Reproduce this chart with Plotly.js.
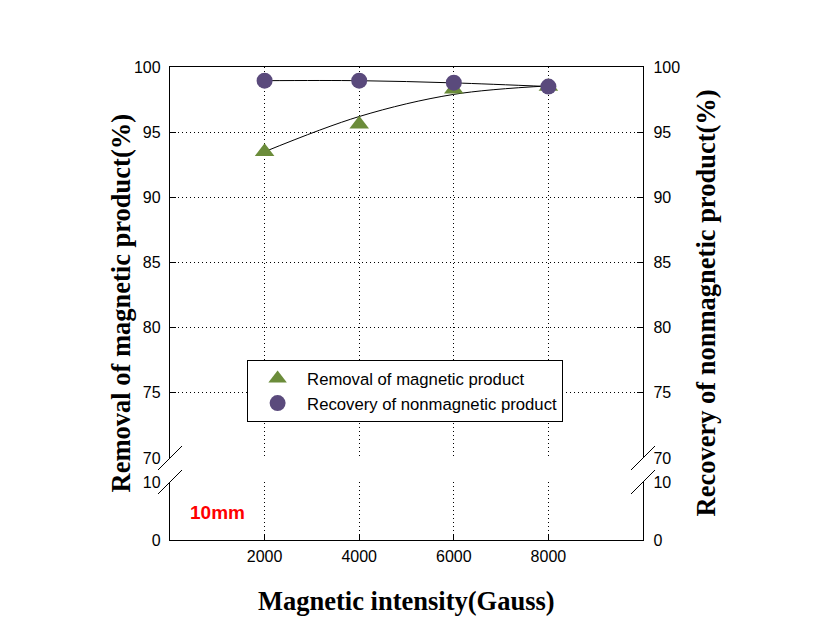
<!DOCTYPE html>
<html>
<head>
<meta charset="utf-8">
<script src="https://cdn.plot.ly/plotly-3.0.1.min.js"></script>
<style>html,body{margin:0;padding:0;background:#fff;}</style>
</head>
<body>
<div id="chart" style="width:828px;height:636px;"></div>
<script>
// Data
var intensity = [2000, 4000, 6000, 8000];
var removalMagnetic = [93.5, 95.6, 98.3, 98.5];
var recoveryNonmagnetic = [98.95, 98.95, 98.8, 98.5];
// fitted trend curves drawn as thin black lines
var removalFit = [93.5, 96.2, 97.9, 98.55];
var recoveryFit = [98.95, 98.95, 98.78, 98.5];
var xTicks = [2000, 4000, 6000, 8000];
var upperTicks = [70, 75, 80, 85, 90, 95, 100];
var lowerTicks = [0, 10];
var seriesNames = ['Removal of magnetic product', 'Recovery of nonmagnetic product'];

var green = '#6b8c3a';
var purple = '#5a4a7c';
var tickFont = {family: 'Liberation Sans, Arial, sans-serif', size: 16, color: '#000'};
var titleFont = {family: 'Liberation Serif, Times New Roman, serif', size: 26.5, color: '#000'};
var gridDash = '1px,3px';

var traces = [
  {x: intensity, y: removalFit, xaxis: 'x2', yaxis: 'y2', mode: 'lines',
   line: {color: '#000', width: 1, shape: 'spline'}, showlegend: false, hoverinfo: 'skip'},
  {x: intensity, y: recoveryFit, xaxis: 'x2', yaxis: 'y2', mode: 'lines',
   line: {color: '#000', width: 1, shape: 'spline'}, showlegend: false, hoverinfo: 'skip'},
  {x: intensity, y: removalMagnetic, xaxis: 'x2', yaxis: 'y2', mode: 'markers', name: seriesNames[0],
   marker: {symbol: 'triangle-up', size: 17, color: green}},
  {x: intensity, y: recoveryNonmagnetic, xaxis: 'x2', yaxis: 'y2', mode: 'markers', name: seriesNames[1],
   marker: {symbol: 'circle', size: 16, color: purple}},
  // empty traces so the mirrored right-hand axes get drawn
  {x: [], y: [], xaxis: 'x2', yaxis: 'y3', showlegend: false, hoverinfo: 'skip'},
  {x: [], y: [], xaxis: 'x', yaxis: 'y4', showlegend: false, hoverinfo: 'skip'},
  {x: [], y: [], xaxis: 'x', yaxis: 'y', showlegend: false, hoverinfo: 'skip'}
];

var baseX = {
  range: [0, 10000], tickvals: xTicks, showgrid: true, griddash: gridDash, gridcolor: '#000', gridwidth: 1,
  zeroline: false, showline: true, linecolor: '#000', linewidth: 1.2
};
var lowerTop = 58 / 473;
var upperBottom = 82 / 473;

var layout = {
  width: 828, height: 636,
  margin: {l: 170, r: 185, t: 67, b: 96},
  paper_bgcolor: '#fff', plot_bgcolor: 'rgba(0,0,0,0)',
  showlegend: true,
  legend: {x: 0.163, y: 0.3805, xanchor: 'left', yanchor: 'top', bgcolor: '#fff',
    bordercolor: '#000', borderwidth: 1, font: {family: 'Liberation Sans, Arial, sans-serif', size: 16.7, color: '#000'},
    itemwidth: 49},
  xaxis: Object.assign({}, baseX, {anchor: 'y', domain: [0, 1], ticks: 'inside', ticklen: 6, tickcolor: '#000',
    tickfont: tickFont, ticklabelstandoff: 2}),
  xaxis2: Object.assign({}, baseX, {anchor: 'y2', domain: [0, 1], matches: 'x', side: 'top', showticklabels: false, ticks: ''}),
  yaxis: {anchor: 'x', domain: [0, lowerTop], range: [0, 10], tickvals: lowerTicks, ticks: 'inside', ticklen: 6,
    tickcolor: '#000', showline: true, linecolor: '#000', linewidth: 1.2, showgrid: true, griddash: gridDash,
    gridcolor: '#000', zeroline: false, tickfont: tickFont, ticklabelstandoff: 5},
  yaxis2: {anchor: 'x2', domain: [upperBottom, 1], range: [70, 100], tickvals: upperTicks, ticks: 'inside', ticklen: 6,
    tickcolor: '#000', showline: true, linecolor: '#000', linewidth: 1.2, showgrid: true, griddash: gridDash,
    gridcolor: '#000', zeroline: false, tickfont: tickFont, ticklabelstandoff: 5},
  yaxis3: {anchor: 'x2', overlaying: 'y2', side: 'right', range: [70, 100], tickvals: upperTicks, ticks: 'inside',
    ticklen: 6, tickcolor: '#000', showline: true, linecolor: '#000', linewidth: 1.2, showgrid: false,
    zeroline: false, tickfont: tickFont, ticklabelstandoff: 6},
  yaxis4: {anchor: 'x', overlaying: 'y', side: 'right', range: [0, 10], tickvals: lowerTicks, ticks: 'inside',
    ticklen: 6, tickcolor: '#000', showline: true, linecolor: '#000', linewidth: 1.2, showgrid: false,
    zeroline: false, tickfont: tickFont, ticklabelstandoff: 6},
  annotations: [
    {text: '<b>Removal of magnetic product(%)</b>', xref: 'paper', yref: 'paper', x: 0, y: 0.5,
     xanchor: 'center', yanchor: 'middle', xshift: -50, textangle: -90, showarrow: false, font: titleFont},
    {text: '<b>Recovery of nonmagnetic product(%)</b>', xref: 'paper', yref: 'paper', x: 1, y: 0.5,
     xanchor: 'center', yanchor: 'middle', xshift: 62, textangle: -90, showarrow: false, font: titleFont},
    {text: '<b>Magnetic intensity(Gauss)</b>', xref: 'paper', yref: 'paper', x: 0.5, y: 0,
     xanchor: 'center', yanchor: 'top', yshift: -44, showarrow: false, font: titleFont},
    {text: '<b>10mm</b>', xref: 'x', yref: 'y', x: 1000, y: 4.8, xanchor: 'center', yanchor: 'middle',
     showarrow: false, font: {family: 'Liberation Sans, Arial, sans-serif', size: 19, color: '#ff0000'}}
  ],
  shapes: []
};

// axis-break slashes
[[0, upperBottom], [0, lowerTop], [1, upperBottom], [1, lowerTop]].forEach(function (s) {
  layout.shapes.push({type: 'line', xref: 'paper', yref: 'paper', xsizemode: 'pixel', ysizemode: 'pixel',
    xanchor: s[0], yanchor: s[1], x0: -12, x1: 12, y0: -12, y1: 12, layer: 'above',
    line: {color: '#000', width: 1}});
});

Plotly.newPlot('chart', traces, layout, {displayModeBar: false, staticPlot: true});
</script>
</body>
</html>
